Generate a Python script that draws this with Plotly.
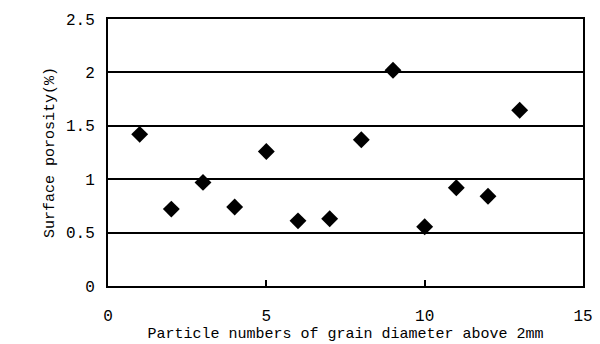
import plotly.graph_objects as go

particle_numbers = [1, 2, 3, 4, 5, 6, 7, 8, 9, 10, 11, 12, 13]
surface_porosity = [1.42, 0.72, 0.97, 0.74, 1.26, 0.61, 0.63, 1.37, 2.02, 0.555, 0.92, 0.84, 1.645]
x_ticks = [0, 5, 10, 15]
y_ticks = [0, 0.5, 1, 1.5, 2, 2.5]
y_tick_text = ["0", "0.5", "1", "1.5", "2", "2.5"]

font_family = "Liberation Mono, DejaVu Sans Mono, monospace"

fig = go.Figure(go.Scatter(
    x=particle_numbers, y=surface_porosity, mode="markers",
    marker=dict(symbol="diamond", size=13, color="black"),
    showlegend=False,
))

fig.update_layout(
    width=600, height=344,
    margin=dict(l=108, r=17, t=19, b=58),
    paper_bgcolor="white", plot_bgcolor="white",
    font=dict(family=font_family, size=16, color="black"),
)
fig.update_xaxes(
    range=[0, 15], tickvals=x_ticks, showgrid=False, zeroline=False,
    showline=True, linecolor="black", linewidth=2, mirror=True,
    ticks="inside", ticklen=6, tickwidth=1.5, tickcolor="black",
    ticklabelstandoff=14, tickfont=dict(size=16), automargin=False,
    title=dict(text="Particle numbers of grain diameter above 2mm", standoff=2,
               font=dict(size=15)),
)
fig.update_yaxes(
    range=[0, 2.5], tickvals=y_ticks, ticktext=y_tick_text,
    showgrid=True, gridcolor="black", gridwidth=2, zeroline=False,
    showline=True, linecolor="black", linewidth=2, mirror=True,
    ticks="", ticklabelstandoff=8, tickfont=dict(size=16), automargin=False,
    title=dict(text="Surface porosity(%)", standoff=8, font=dict(size=15)),
)

fig.write_html("out.html")
